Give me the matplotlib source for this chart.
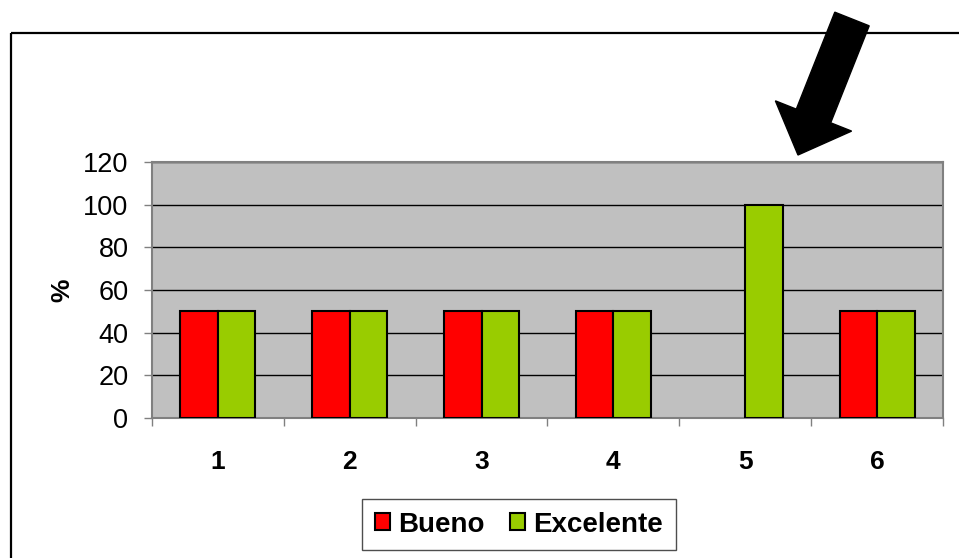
import numpy as np
import matplotlib
matplotlib.use("Agg")
import matplotlib.pyplot as plt
from matplotlib.patches import Polygon, Rectangle
from matplotlib.ticker import FixedLocator

plt.rcParams['font.family'] = ['Liberation Sans', 'DejaVu Sans']

categories = ['1', '2', '3', '4', '5', '6']
bueno = [50, 50, 50, 50, 0, 50]
excelente = [50, 50, 50, 50, 100, 50]
yticks = [0, 20, 40, 60, 80, 100, 120]

W, H = 959, 558
fig = plt.figure(figsize=(W/100, H/100), dpi=100)

# background layer in pixel coords for the frame and the arrow
bg = fig.add_axes([0, 0, 1, 1])
bg.set_xlim(0, W)
bg.set_ylim(H, 0)
bg.axis('off')
bg.add_patch(Rectangle((11, 33), 960, 540, fill=False, edgecolor='black', linewidth=1.6))

# arrow: tail centre -> tip
tail = np.array([852.0, 19.0])
tip = np.array([798.0, 155.0])
d = (tip - tail) / np.linalg.norm(tip - tail)
nrm = np.array([-d[1], d[0]])
shaft_w, head_w, head_l = 37, 82, 42
base = tip - d*head_l
pts = [tail + nrm*shaft_w/2, base + nrm*shaft_w/2, base + nrm*head_w/2, tip,
       base - nrm*head_w/2, base - nrm*shaft_w/2, tail - nrm*shaft_w/2]
bg.add_patch(Polygon(pts, closed=True, facecolor='black', edgecolor='black'))

ax = fig.add_axes([152/W, 1-418/H, (943-152)/W, (418-162)/H])
ax.set_facecolor('#C0C0C0')
x = np.arange(len(categories))
bw = 0.285
b1 = ax.bar(x - bw/2, bueno, bw, color='#FF0000', edgecolor='black', linewidth=1.5, label='Bueno', zorder=3)
b2 = ax.bar(x + bw/2, excelente, bw, color='#99CC00', edgecolor='black', linewidth=1.5, label='Excelente', zorder=3)
# zero bars are not drawn at all
for bars, vals in ((b1, bueno), (b2, excelente)):
    for r, v in zip(bars, vals):
        if v == 0:
            r.set_visible(False)

ax.set_xlim(-0.5, len(categories) - 0.5)
ax.set_ylim(0, 120)
ax.set_yticks(yticks)
ax.yaxis.grid(True, color='black', linewidth=1.0)
ax.set_axisbelow(True)

ax.xaxis.set_major_locator(FixedLocator(np.arange(-0.5, len(categories), 1.0)))
ax.xaxis.set_major_formatter(plt.NullFormatter())
ax.xaxis.set_minor_locator(FixedLocator(x))
ax.set_xticklabels(categories, minor=True, fontsize=19, fontweight='bold')
ax.tick_params(axis='x', which='major', direction='out', length=6, width=1, color='#808080')
ax.tick_params(axis='x', which='minor', length=0, pad=23)
ax.tick_params(axis='y', direction='out', length=6, width=1, color='#808080', labelsize=19.5, pad=11)

for s in ax.spines.values():
    s.set_color('#808080')
    s.set_linewidth(1.5)

fig.text(62/W, 1-290/H, '%', rotation=90, ha='center', va='center', fontsize=19, fontweight='bold')

leg = ax.legend(loc='center', bbox_to_anchor=(519/W, 1-524.5/H), bbox_transform=fig.transFigure,
                ncol=2, frameon=True, fancybox=False, edgecolor='#222222',
                prop={'weight': 'bold', 'size': 20}, handlelength=0.55, handleheight=0.55,
                handletextpad=0.3, columnspacing=0.9, borderpad=0.45, borderaxespad=0)
leg.get_frame().set_linewidth(1.0)

fig.savefig('out.png', dpi=100)
